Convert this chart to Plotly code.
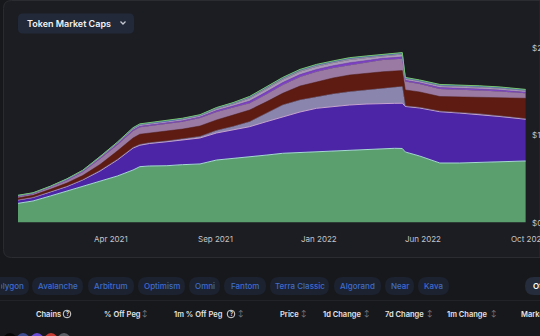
import plotly.graph_objects as go

# ---------------- data ----------------
dates = ["2020-12-16","2021-01-05","2021-01-28","2021-02-19","2021-03-12","2021-04-04",
         "2021-04-27","2021-05-18","2021-05-27","2021-06-09","2021-07-02","2021-07-23",
         "2021-08-15","2021-09-06","2021-09-28","2021-10-20","2021-11-12","2021-12-03",
         "2021-12-26","2022-01-17","2022-02-08","2022-03-02","2022-03-25","2022-04-15",
         "2022-05-01","2022-05-11","2022-05-15","2022-06-03","2022-06-30","2022-07-26",
         "2022-08-22","2022-09-18","2022-10-22"]

usdt = [21.9,24.6,30.3,36.0,40.9,46.6,53.1,60.0,63.8,64.6,64.9,66.1,66.9,71.4,73.1,75.2,77.1,
        79.1,80.0,80.9,81.7,82.9,84.0,84.8,84.8,84.6,80.6,76.0,68.0,68.0,68.6,69.1,70.3]
usdc = [3.8,4.0,4.6,5.1,7.7,12.2,18.3,25.1,24.5,25.7,27.4,28.2,29.7,30.9,32.6,34.3,38.3,
        41.8,46.3,49.6,50.9,51.4,51.4,51.4,51.4,51.7,52.0,54.9,58.6,57.1,54.9,52.0,47.7]
ust = [0.1,0.1,0.1,0.2,0.3,0.6,0.6,0.6,0.8,0.8,0.8,1.1,1.7,2.9,4.0,5.7,9.7,13.4,13.7,13.3,
       14.3,15.2,16.0,17.1,18.1,19.0,0.6,0.6,0.6,0.6,0.6,0.6,0.6]
busd = [2.3,2.3,2.9,3.8,4.8,6.9,9.7,10.9,11.8,11.2,11.4,11.4,12.0,12.0,13.1,13.4,13.1,13.4,
        16.0,17.1,18.3,19.1,19.4,19.0,18.9,18.3,18.3,17.7,16.8,17.7,18.9,20.6,23.4]
dai = [1.7,1.7,2.3,2.9,4.0,6.3,6.9,8.0,8.0,8.0,8.0,8.3,9.1,9.1,8.6,7.7,8.6,9.5,10.3,11.4,
       11.4,11.4,12.0,13.4,13.1,13.4,9.7,9.1,8.6,8.6,8.0,7.4,5.7]
frax = [0.4,0.4,0.4,0.6,0.6,0.8,1.0,1.2,1.2,1.2,1.2,1.3,1.2,1.6,1.8,2.5,2.8,2.8,2.8,2.7,
        2.6,2.7,2.4,2.0,2.2,2.3,1.4,1.4,1.6,1.6,1.6,1.6,1.3]
tusd = [0.4,0.4,0.4,0.7,0.7,0.9,1.2,1.4,1.4,1.4,1.4,1.5,1.4,1.8,2.0,2.9,3.2,3.2,3.2,3.1,
        3.0,3.1,2.8,2.3,2.5,2.6,1.6,1.6,1.8,1.8,1.8,1.8,1.5]
usdp = [0.3,0.3,0.3,0.4,0.4,0.6,0.7,0.8,0.8,0.8,0.8,0.9,0.8,1.2,1.3,1.8,2.0,2.0,2.0,1.9,
        1.8,1.9,1.7,1.4,1.6,1.6,1.0,1.0,1.2,1.2,1.2,1.2,1.0]
others = [0.2,0.2,0.2,0.2,0.3,0.3,0.3,0.4,0.4,0.4,0.4,0.4,0.4,0.5,0.5,0.6,0.6,0.6,0.7,0.7,
          0.7,0.7,0.7,0.7,0.7,0.7,0.6,0.6,0.6,0.6,0.6,0.6,0.6]

tick_dates = ["2021-04-18", "2021-09-04", "2022-01-20", "2022-06-07", "2022-10-22"]
tick_text = ["Apr 2021", "Sep 2021", "Jan 2022", "Jun 2022", "Oct 2022"]
y_ticks = [0, 100, 200]
y_text = ["$0", "$100b", "$200b"]

chains = ["Polygon", "Avalanche", "Arbitrum", "Optimism", "Omni", "Fantom",
          "Terra Classic", "Algorand", "Near", "Kava"]
headers = ["Chains", "% Off Peg", "1m % Off Peg", "Price", "1d Change",
           "7d Change", "1m Change", "Market Cap"]

# ---------------- helpers ----------------
W, H = 540, 336
def px(x): return x / W
def py(y): return 1 - y / H

def rrect(x0, y0, x1, y1, r, rl=True, rr=True):
    P = lambda x, y: f"{px(x):.5f},{py(y):.5f}"
    s = f"M{P(x0 + (r if rl else 0), y0)} "
    if rr:
        s += f"L{P(x1-r,y0)} Q{P(x1,y0)} {P(x1,y0+r)} L{P(x1,y1-r)} Q{P(x1,y1)} {P(x1-r,y1)} "
    else:
        s += f"L{P(x1,y0)} L{P(x1,y1)} "
    if rl:
        s += f"L{P(x0+r,y1)} Q{P(x0,y1)} {P(x0,y1-r)} L{P(x0,y0+r)} Q{P(x0,y0)} {P(x0+r,y0)} Z"
    else:
        s += f"L{P(x0,y1)} Z"
    return s

FONT = "Inter, sans-serif"

fig = go.Figure()

series = [
    ("USDT", usdt, "#5a9f6d", "#a6d8d4", 1.0),
    ("USDC", usdc, "#4b25a5", "#c7a3d3", 1.0),
    ("UST", ust, "#8985ad", "#8985ad", 0.5),
    ("BUSD", busd, "#5d1b12", "#5d1b12", 0.5),
    ("DAI", dai, "#9a7aa2", "#9a7aa2", 0.5),
    ("FRAX", frax, "#7a3fc2", "#7a3fc2", 0.5),
    ("TUSD", tusd, "#a99bb8", "#a99bb8", 0.5),
    ("USDP", usdp, "#8d8c98", "#3d68c8", 0.8),
    ("Others", others, "#6fb96b", "#79c46f", 1.0),
]
for name, vals, col, lcol, lw in series:
    fig.add_trace(go.Scatter(
        x=dates, y=vals, name=name, stackgroup="one", mode="lines",
        line=dict(color=lcol, width=lw), fillcolor=col, hoverinfo="skip",
        showlegend=False))

shapes = []
annotations = []

def note(text, x, y, size, color, xanchor="left", weight=400, xref="paper", yref="paper",
         width=None, align="left", xshift=0):
    d = dict(text=text, x=x, y=y, xref=xref, yref=yref, xanchor=xanchor, yanchor="middle",
             showarrow=False, align=align, xshift=xshift, borderpad=0,
             font=dict(family=FONT, size=size, color=color, weight=weight))
    if width is not None:
        d["width"] = width
    annotations.append(d)

# chart panel (right side runs off the picture)
shapes.append(dict(type="path", xref="paper", yref="paper", layer="below",
                   path=rrect(3.5, 0.5, 540, 257.5, 8, rr=False),
                   fillcolor="#1c1d22", line=dict(color="#2b2c31", width=1)))
# dropdown button
shapes.append(dict(type="path", xref="paper", yref="paper",
                   path=rrect(18, 13.5, 134, 33.5, 5),
                   fillcolor="#222a39", line=dict(width=0)))
shapes.append(dict(type="path", xref="paper", yref="paper",
                   path=f"M{px(120.5)},{py(21.5)} L{px(123)},{py(24)} L{px(125.5)},{py(21.5)}",
                   line=dict(color="#c4c8d0", width=1.3)))
note("Token Market Caps", px(26), py(23.5), 9, "#f2f2f2", weight=600)

# axis labels placed through the axes' scales (clipped like the reference crop)
for d, t in zip(tick_dates[:-1], tick_text[:-1]):
    note(t, d, py(238.5), 8, "#c4c5c8", xanchor="center", xref="x")
note(tick_text[-1], tick_dates[-1], py(238.5), 8, "#c4c5c8", xanchor="left", xref="x",
     width=30, xshift=-16)
for v, t in zip(y_ticks, y_text):
    note(t, px(531), v, 8, "#c4c5c8", yref="y", width=9)

# chain buttons
btn = [(-14, 29), (32, 83), (88, 134), (138, 185), (189, 220), (224, 266),
       (270, 329), (334, 381), (385, 414), (418, 449)]
for i, (name, (a, b)) in enumerate(zip(chains, btn)):
    shapes.append(dict(type="path", xref="paper", yref="paper",
                       path=rrect(max(a, 0), 277, b, 295, 9, rl=(a >= 0)),
                       fillcolor="#1c2230", line=dict(width=0)))
    if a < 0:
        note(name, 0, py(286), 8, "#3f6ccc", weight=500, width=23, align="right")
    else:
        note(name, px((a + b) / 2), py(286), 8, "#3f6ccc", xanchor="center", weight=500)
shapes.append(dict(type="path", xref="paper", yref="paper",
                   path=rrect(525, 277, 540, 295, 9, rr=False), fillcolor="#252c3c",
                   line=dict(width=0)))
note("Others", px(532), py(286), 8, "#ffffff", weight=600, width=8)

# divider
shapes.append(dict(type="line", xref="paper", yref="paper", x0=0, x1=1, y0=py(300.5), y1=py(300.5),
                   line=dict(color="#222328", width=1)))

# table header
hx = [35, 103, 173, 279, 322, 384, 446, 520]
sort_x = [None, 144, 240, 303, 366, 429, 493, None]
help_x = [67, None, 231, None, None, None, None, None]
for t, x, sx, hxx in zip(headers, hx, sort_x, help_x):
    if x + 40 > W:
        note(t, px(x), py(314), 7.5, "#e4e4e6", weight=600, width=W - x)
    else:
        note(t, px(x), py(314), 7.5, "#e4e4e6", weight=600)
    if sx is not None:
        note("↕", px(sx), py(314), 6.5, "#8a8b90", xanchor="center")
    if hxx is not None:
        shapes.append(dict(type="circle", xref="paper", yref="paper",
                           x0=px(hxx - 3.8), x1=px(hxx + 3.8), y0=py(317.8), y1=py(310.2),
                           line=dict(color="#d8d8da", width=1)))
        note("?", px(hxx), py(314), 5.5, "#d8d8da", xanchor="center", weight=700)

# tops of icons peeking in at the bottom edge
for cx, c in zip([10, 23, 37, 51, 64], ["#050505", "#3c4a90", "#6a4bd6", "#c73c34", "#5c5e66"]):
    shapes.append(dict(type="path", xref="paper", yref="paper",
                       path=f"M{px(cx-5.7)},{py(336)} Q{px(cx)},{py(330)} {px(cx+5.7)},{py(336)} Z",
                       fillcolor=c, line=dict(width=0)))

fig.update_layout(
    width=W, height=H, margin=dict(l=0, r=0, t=0, b=0),
    paper_bgcolor="#17181c", plot_bgcolor="rgba(0,0,0,0)",
    shapes=shapes, annotations=annotations, hovermode=False,
    xaxis=dict(type="date", domain=[px(18), px(526)],
               range=["2020-12-16", "2022-10-22 12:00"],
               tickvals=tick_dates, showticklabels=False, showgrid=False, zeroline=False,
               showline=False, ticks=""),
    yaxis=dict(side="right", domain=[py(222.5), py(47.5)], range=[0, 200],
               tickvals=y_ticks, showticklabels=False, showgrid=False, zeroline=False,
               showline=False, ticks=""),
)

fig.write_html("out.html")
